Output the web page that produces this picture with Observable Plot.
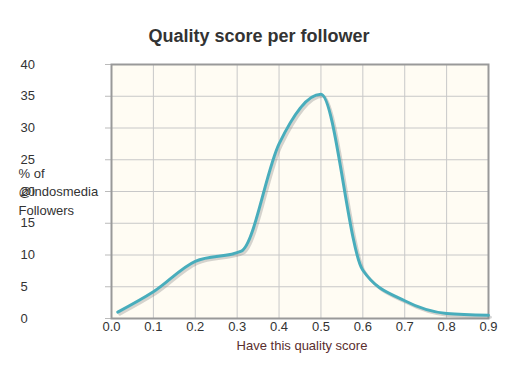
<!DOCTYPE html>
<html>
<head>
<meta charset="utf-8">
<script src="https://cdn.jsdelivr.net/npm/d3@7"></script>
<script src="https://cdn.jsdelivr.net/npm/@observablehq/plot@0.6"></script>
<style>
body { margin: 0; background: #fff; }
</style>
</head>
<body>
<div id="chart"></div>
<script>
const titleText = "Quality score per follower";
const yLabel = "% of\n@indosmedia\nFollowers";
const xLabel = "Have this quality score";
const scores = [0.015, 0.1, 0.2, 0.31, 0.4, 0.5, 0.6, 0.7, 0.8, 0.9];
const percents = [1.0, 4.2, 9.0, 10.6, 27.5, 35.3, 7.6, 2.8, 0.8, 0.5];
const xTicks = [0, 0.1, 0.2, 0.3, 0.4, 0.5, 0.6, 0.7, 0.8, 0.9];
const yTicks = [0, 5, 10, 15, 20, 25, 30, 35, 40];

const data = scores.map((x, i) => ({x, y: percents[i]}));
const font = "'Liberation Sans', Arial, sans-serif";

const chart = Plot.plot({
  width: 532,
  height: 374,
  marginLeft: 111,
  marginRight: 44,
  marginTop: 64,
  marginBottom: 56,
  style: {fontFamily: font, fontSize: "13px", background: "#fff"},
  x: {domain: [0, 0.9], axis: null},
  y: {domain: [0, 40], axis: null},
  marks: [
    Plot.frame({fill: "#fffcf3"}),
    Plot.gridX(xTicks, {stroke: "#c8c8c8", strokeOpacity: 1}),
    Plot.gridY(yTicks, {stroke: "#c8c8c8", strokeOpacity: 1}),
    Plot.axisY(yTicks, {tickSize: 6, tickFormat: () => "", label: null, stroke: "#bbb"}),
    Plot.frame({stroke: "#999", strokeWidth: 2}),
    Plot.line(data, {x: "x", y: "y", curve: "monotone-x", stroke: "#888", strokeOpacity: 0.35, strokeWidth: 3, dx: 2, dy: 2}),
    Plot.line(data, {x: "x", y: "y", curve: "monotone-x", stroke: "#48adbc", strokeWidth: 3}),
    Plot.text(yTicks, {y: d => d, text: d => String(d), frameAnchor: "left", dx: -91, textAnchor: "start", fill: "#333", fontSize: 13}),
    Plot.text(xTicks, {x: d => d, text: d => d3.format(".1f")(d), frameAnchor: "bottom", dy: 8, lineAnchor: "middle", fill: "#333", fontSize: 13}),
    Plot.text([xLabel], {text: d => d, frameAnchor: "bottom", dx: 2, dy: 27, lineAnchor: "middle", fill: "#5a2e2e", fontSize: 13}),
    Plot.text([yLabel], {text: d => d, frameAnchor: "left", dx: -93, dy: -1, textAnchor: "start", lineAnchor: "middle", lineHeight: 1.42, fill: "#333", fontSize: 13}),
    Plot.text([titleText], {text: d => d, frameAnchor: "top", dx: -41, dy: -28, lineAnchor: "middle", fill: "#333", fontSize: 18, fontWeight: "bold"})
  ]
});
document.getElementById("chart").appendChild(chart);
</script>
</body>
</html>
